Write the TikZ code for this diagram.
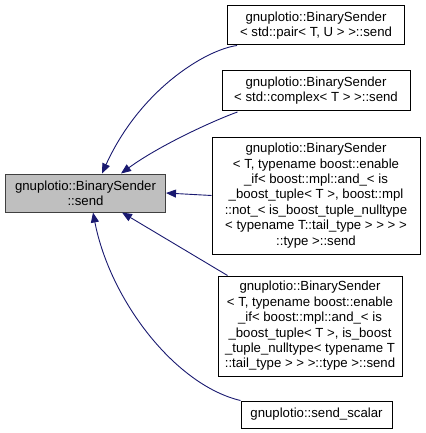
\documentclass[tikz,border=0pt]{standalone}
\usepackage{fontspec}
\setmainfont{Liberation Sans}
\usetikzlibrary{arrows.meta}
\definecolor{edgeblue}{HTML}{191970}
\definecolor{mainfill}{HTML}{BFBFBF}
\definecolor{mainborder}{HTML}{404040}
\begin{document}
\begin{tikzpicture}[x=1pt,y=-1pt,
  box/.style={draw=black,line width=1pt,fill=white,align=center,inner sep=0pt,
    font=\fontsize{13.2}{15.4}\selectfont},
  mainbox/.style={box,draw=mainborder,fill=mainfill},
  dep/.style={draw=edgeblue,line width=0.9pt,-{Triangle[length=10pt,width=8pt]}}]
\useasboundingbox (0,0) rectangle (425,433);
\node[mainbox,minimum width=160pt,minimum height=38pt] (main) at (85.5,193) {gnuplotio::BinarySender\\::send};
\node[box,minimum width=177pt,minimum height=39pt] (n1) at (316,25.5) {gnuplotio::BinarySender\\< std::pair< T, U > >::send};
\node[box,minimum width=188pt,minimum height=40pt] (n2) at (316,90.5) {gnuplotio::BinarySender\\< std::complex< T > >::send};
\node[box,minimum width=208pt,minimum height=117pt] (n3) at (316,195.5) {gnuplotio::BinarySender\\< T, typename boost::enable\\\_if< boost::mpl::and\_< is\\\_boost\_tuple< T >, boost::mpl\\::not\_< is\_boost\_tuple\_nulltype\\< typename T::tail\_type > > > >\\::type >::send};
\node[box,minimum width=184pt,minimum height=100pt] (n4) at (310,326) {gnuplotio::BinarySender\\< T, typename boost::enable\\\_if< boost::mpl::and\_< is\\\_boost\_tuple< T >, is\_boost\\\_tuple\_nulltype< typename T\\::tail\_type > > >::type >::send};
\node[box,minimum width=151pt,minimum height=27pt] (n5) at (316.5,414.5) {gnuplotio::send\_scalar};
\coordinate (t1) at (102,173.5);
\coordinate (t2) at (121,173.5);
\coordinate (t4) at (122,212.5);
\coordinate (t5) at (93,212.5);
\draw[dep] (n1.south west) ++(10,0) .. controls (205,50) and (140,90) .. (t1);
\draw[dep] (n2.south west) ++(16,1) .. controls (215,120) and (160,145) .. (t2);
\draw[dep] (n3.west) -- (main.east);
\draw[dep] (n4.north west) ++(10,0) -- (t4);
\draw[dep] (n5.north west) .. controls (175,385) and (110,300) .. (t5);
\end{tikzpicture}
\end{document}
